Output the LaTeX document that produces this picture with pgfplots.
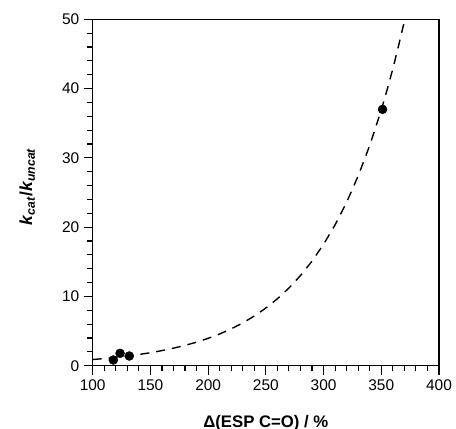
\documentclass[border=0pt]{standalone}
\usepackage{fontspec}
\setmainfont{Liberation Sans}
\usepackage{pgfplots}
\pgfplotsset{compat=1.18}
\begin{document}
\begin{tikzpicture}
  \begin{axis}[
      scale only axis,
      width=346.3bp, height=346.4bp,
      xmin=100, xmax=400, ymin=0, ymax=50,
      xtick={100,150,...,400}, ytick={0,10,...,50},
      minor x tick num=4, minor y tick num=4,
      tick align=outside, tick pos=left,
      major tick length=9bp, minor tick length=5.5bp,
      every tick/.style={black, line width=1.1pt},
      axis line style={line width=1.1pt},
      tick label style={font=\fontsize{15.5}{18}\selectfont,
          /pgf/number format/assume math mode=true},
      xticklabel style={yshift=-1bp},
      yticklabel style={xshift=-1bp},
      xlabel={\textbf{Δ(ESP C=O) / \%}},
      ylabel={\textbf{\textit{k}\textsubscript{\textit{cat}}/\textit{k}\textsubscript{\textit{uncat}}}},
      every axis x label/.style={at={(axis description cs:0.5,-0.177)}, anchor=base,
          font=\fontsize{16.8}{19}\selectfont},
      every axis y label/.style={at={(axis description cs:-0.189,0.516)}, rotate=90, anchor=center,
          font=\fontsize{17.5}{20}\selectfont},
      clip=true,
    ]
    % fitted curve
    \addplot[black, line width=1.4pt, dash pattern=on 9bp off 7bp] coordinates {
        (100,0.89) (110,1.03) (120,1.20) (130,1.39) (140,1.62) (150,1.87)
        (160,2.18) (170,2.53) (180,2.93) (190,3.40) (200,3.95) (210,4.58)
        (220,5.32) (230,6.17) (240,7.17) (250,8.32) (260,9.66) (270,11.21)
        (280,13.01) (290,15.09) (300,17.52) (310,20.34) (320,23.60) (330,27.40)
        (340,31.80) (350,36.91) (355,39.80) (360,42.84) (365,46.20) (370,49.72)
        (372,51.2)
      };
    % measured points
    \addplot[only marks, mark=*, mark size=4.5bp, black] coordinates {
        (117.9,0.82) (123.7,1.79) (131.7,1.40) (351.1,37.0)
      };
  \end{axis}
  \pgfresetboundingbox
  \path[use as bounding box] (-92.7bp,-63.3bp) rectangle (363.3bp,365.7bp);
\end{tikzpicture}
\end{document}
